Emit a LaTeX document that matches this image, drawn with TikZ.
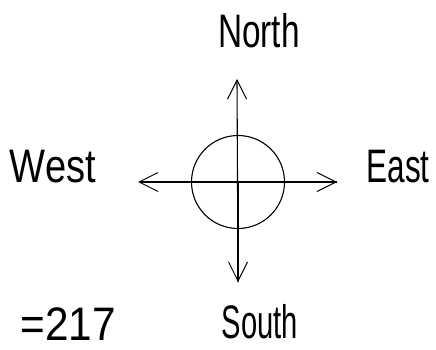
\documentclass[tikz,border=0pt]{standalone}
\usepackage{fontspec}
\setmainfont{Liberation Sans}
\usetikzlibrary{arrows.meta}
\tikzset{
  ink/.style={line width=1.1pt, black},
  arrowline/.style={ink, -{Straight Barb[length=19pt,width=19pt,line width=1pt]}},
  label/.style={inner sep=0pt, font=\fontsize{47}{47}\selectfont},
}
\begin{document}
\begin{tikzpicture}[x=1pt,y=-1pt]
\useasboundingbox (0,0) rectangle (436,350);
% centre and arrow ends
\coordinate (c) at (238,182);
\coordinate (nt) at (237,79);
\coordinate (st) at (238,282);
\coordinate (wt) at (138,182);
\coordinate (et) at (337,182);
\node[ink, draw, circle, minimum size=93pt, inner sep=0pt] (ring) at (c) {};
\draw[arrowline] (st) -- (nt);
\draw[arrowline] (c) -- (st);
\draw[arrowline] (et) -- (wt);
\draw[arrowline] (c) -- (et);
% labels
\node[label, anchor=base] (north) at (259,48) {\scalebox{0.71}[1]{North}};
\node[label, anchor=base] (west) at (53,182) {\scalebox{0.81}[1]{West}};
\node[label, anchor=base] (east) at (398,182) {\scalebox{0.67}[1]{East}};
\node[label, anchor=base] (south) at (260,338) {\scalebox{0.62}[1]{South}};
\node[label, anchor=base east] (num) at (116,340) {\scalebox{0.9}[1]{=217}};
\end{tikzpicture}
\end{document}
